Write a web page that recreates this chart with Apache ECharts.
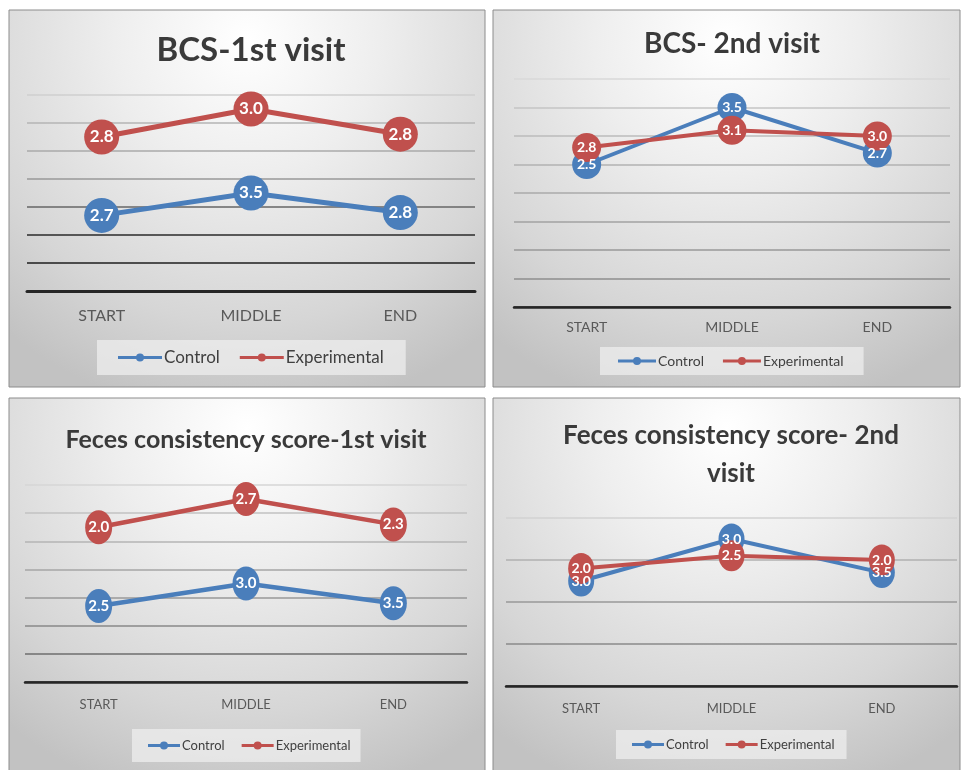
<!DOCTYPE html>
<html>
<head>
<meta charset="utf-8">
<script src="https://cdn.jsdelivr.net/npm/echarts@6/dist/echarts.min.js"></script>
<style>
  html, body { margin: 0; padding: 0; background: #fff; }
  #main { width: 961px; height: 770px; }
</style>
</head>
<body>
<div id="main"></div>
<script>
const categories = ['START', 'MIDDLE', 'END']

// BCS 1st visit (stacked lines)
const bcs1Control = [2.7, 3.5, 2.8]
const bcs1Experimental = [2.8, 3.0, 2.8]
const bcs1ControlLabels = ['2.7', '3.5', '2.8']
const bcs1ExperimentalLabels = ['2.8', '3.0', '2.8']

// BCS 2nd visit
const bcs2Control = [2.5, 3.5, 2.7]
const bcs2Experimental = [2.8, 3.1, 3.0]
const bcs2ControlLabels = ['2.5', '3.5', '2.7']
const bcs2ExperimentalLabels = ['2.8', '3.1', '3.0']

// Feces consistency 1st visit (stacked, points sit where the picture has them)
const fcs1Control = [2.7, 3.5, 2.8]
const fcs1Experimental = [2.8, 3.0, 2.8]
const fcs1ControlLabels = ['2.5', '3.0', '3.5']
const fcs1ExperimentalLabels = ['2.0', '2.7', '2.3']

// Feces consistency 2nd visit
const fcs2Control = [2.5, 3.5, 2.7]
const fcs2Experimental = [2.8, 3.1, 3.0]
const fcs2ControlLabels = ['3.0', '3.0', '3.5']
const fcs2ExperimentalLabels = ['2.0', '2.5', '2.0']

const BLUE = '#4a7ebb'
const RED = '#c0504d'
const FONT = 'Lato, "Open Sans", sans-serif'
const ellipse = 'path://M0,50 A50,50 0 1 1 100,50 A50,50 0 1 1 0,50 Z'

// line with a dot in the middle, w wide
function legendIcon(w) {
  const c = w / 2
  return `path://M0,5 L${w},5 L${w},8 L0,8 Z M${c},2.5 A4,4 0 1 1 ${c},10.5 A4,4 0 1 1 ${c},2.5 Z`
}

// panel boxes: x, y, w, h
const panels = [
  [9, 10, 476, 377],
  [493, 10, 467, 377],
  [9, 398, 476, 380],
  [493, 398, 467, 380],
]

const chart = echarts.init(document.getElementById('main'), null, { renderer: 'canvas' })

function panelBg(p) {
  return {
    type: 'rect',
    shape: { x: p[0], y: p[1], width: p[2], height: p[3] },
    style: {
      fill: new echarts.graphic.RadialGradient(0.5, 0.08, 1.0, [
        { offset: 0, color: '#ffffff' },
        { offset: 0.35, color: '#eeeeee' },
        { offset: 0.75, color: '#d6d6d6' },
        { offset: 1, color: '#c2c2c2' },
      ]),
      stroke: '#8c8c8c',
      lineWidth: 1,
    },
    silent: true,
    z: -10,
  }
}

function makeSeries(idx, name, data, labels, color, opts) {
  return {
    type: 'line',
    name: name,
    xAxisIndex: idx,
    yAxisIndex: idx,
    stack: opts.stack,
    data: data,
    symbol: opts.symbol || 'circle',
    symbolSize: opts.symbolSize,
    lineStyle: { width: opts.lineWidth, color: color },
    itemStyle: { color: color },
    label: {
      show: true,
      position: 'inside',
      formatter: p => labels[p.dataIndex],
      color: '#fff',
      fontFamily: FONT,
      fontWeight: 'bold',
      fontSize: opts.labelSize,
    },
    emphasis: { disabled: true },
  }
}

function makeX(idx, fontSize, margin, axisWidth) {
  return {
    type: 'category',
    gridIndex: idx,
    data: categories,
    boundaryGap: true,
    axisTick: { show: false },
    axisLine: { lineStyle: { color: '#262626', width: axisWidth } },
    axisLabel: { color: '#595959', fontFamily: FONT, fontSize: fontSize, margin: margin },
  }
}

function makeY(idx, max, interval, lineColors) {
  return {
    type: 'value',
    gridIndex: idx,
    min: 0,
    max: max,
    interval: interval,
    axisLabel: { show: false },
    axisLine: { show: false },
    axisTick: { show: false },
    splitLine: { lineStyle: { color: lineColors, width: 1.5 } },
  }
}

function makeLegend(left, top, fontSize, iconW, gap, padding) {
  const icon = legendIcon(iconW)
  return {
    left: left,
    top: top,
    orient: 'horizontal',
    itemWidth: iconW,
    itemHeight: 8,
    itemGap: gap,
    padding: padding,
    backgroundColor: 'rgba(238,238,238,0.75)',
    textStyle: { color: '#404040', fontFamily: FONT, fontSize: fontSize, padding: [0, 0, 0, -3] },
    itemStyle: { borderWidth: 0 },
    data: [
      { name: 'Control', icon: icon },
      { name: 'Experimental', icon: icon },
    ],
  }
}

function makeTitle(text, x, top, fontSize, lineHeight) {
  return {
    text: text,
    left: x,
    top: top,
    textAlign: 'center',
    textStyle: { color: '#3a3a3a', fontFamily: FONT, fontWeight: 'bold', fontSize: fontSize, lineHeight: lineHeight },
  }
}

const option = {
  animation: false,
  backgroundColor: '#ffffff',
  graphic: panels.map(panelBg),
  title: [
    makeTitle('BCS-1st visit', 246, 25, 33, 40),
    makeTitle('BCS- 2nd visit', 727, 22, 28, 34),
    makeTitle('Feces consistency score-1st visit', 241, 419, 25, 32),
    makeTitle('Feces consistency score- 2nd\nvisit', 726, 412, 26, 38),
  ],
  legend: [
    makeLegend(97, 340, 17, 44, 20, [9, 22, 9, 21]),
    makeLegend(600, 347, 14, 38, 19, [7, 20, 7, 18]),
    makeLegend(132, 729, 13, 32, 17, [10, 10, 10, 16]),
    makeLegend(616, 730, 13, 32, 17, [8, 12, 8, 16]),
  ],
  grid: [
    { left: 27, top: 95, width: 448, height: 196 },
    { left: 514, top: 79, width: 436, height: 228 },
    { left: 25, top: 485, width: 442, height: 197 },
    { left: 506, top: 518, width: 451, height: 168 },
  ],
  xAxis: [
    makeX(0, 16, 17, 3),
    makeX(1, 14, 13, 2.5),
    makeX(2, 13, 16, 2.5),
    makeX(3, 13, 16, 2.5),
  ],
  yAxis: [
    makeY(0, 7, 1, ['#222', '#1e1e1e', '#2a2a2a', '#666', '#999', '#aaa', '#b4b4b4', '#cfcfcf']),
    makeY(1, 4, 0.5, ['#333', '#8e8e8e', '#999', '#a2a2a2', '#aaa', '#b2b2b2', '#bbb', '#c4c4c4', '#d8d8d8']),
    makeY(2, 7, 1, ['#333', '#6e6e6e', '#888', '#999', '#a6a6a6', '#b4b4b4', '#c2c2c2', '#d6d6d6']),
    makeY(3, 4, 1, ['#333', '#8a8a8a', '#999', '#b0b0b0', '#d2d2d2']),
  ],
  series: [
    makeSeries(0, 'Control', bcs1Control, bcs1ControlLabels, BLUE, { stack: 'bcs1', symbolSize: 35, lineWidth: 5, labelSize: 17 }),
    makeSeries(0, 'Experimental', bcs1Experimental, bcs1ExperimentalLabels, RED, { stack: 'bcs1', symbolSize: 35, lineWidth: 5, labelSize: 17 }),
    makeSeries(1, 'Control', bcs2Control, bcs2ControlLabels, BLUE, { symbolSize: 29, lineWidth: 4, labelSize: 14 }),
    makeSeries(1, 'Experimental', bcs2Experimental, bcs2ExperimentalLabels, RED, { symbolSize: 29, lineWidth: 4, labelSize: 14 }),
    makeSeries(2, 'Control', fcs1Control, fcs1ControlLabels, BLUE, { stack: 'fcs1', symbol: ellipse, symbolSize: [27, 34], lineWidth: 4.5, labelSize: 15 }),
    makeSeries(2, 'Experimental', fcs1Experimental, fcs1ExperimentalLabels, RED, { stack: 'fcs1', symbol: ellipse, symbolSize: [27, 34], lineWidth: 4.5, labelSize: 15 }),
    makeSeries(3, 'Control', fcs2Control, fcs2ControlLabels, BLUE, { symbol: ellipse, symbolSize: [26, 31], lineWidth: 4, labelSize: 14 }),
    makeSeries(3, 'Experimental', fcs2Experimental, fcs2ExperimentalLabels, RED, { symbol: ellipse, symbolSize: [26, 31], lineWidth: 4, labelSize: 14 }),
  ],
}

chart.setOption(option)
</script>
</body>
</html>
